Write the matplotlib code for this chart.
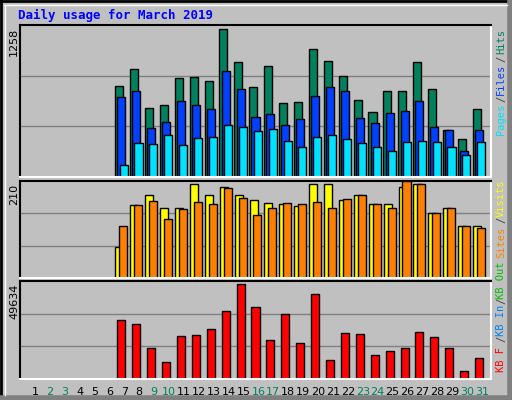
import matplotlib
matplotlib.use("Agg")
import matplotlib.pyplot as plt
from matplotlib.lines import Line2D

days = list(range(1, 32))
hits = [0]*6 + [773, 918, 587, 612, 841, 850, 816, 1258, 977, 765, 943, 629, 637, 1088, 986, 858, 654, 552, 731, 731, 977, 748, 400, 323, 578]
files = [0]*6 + [680, 731, 416, 467, 646, 612, 578, 901, 748, 510, 535, 442, 493, 688, 765, 731, 501, 459, 544, 561, 646, 425, 400, 221, 400]
pages = [0]*6 + [102, 289, 280, 357, 272, 331, 340, 442, 425, 391, 408, 306, 255, 340, 357, 323, 289, 255, 221, 298, 306, 298, 255, 187, 298]
visits = [0]*6 + [69, 162, 184, 155, 155, 210, 184, 203, 184, 174, 167, 165, 160, 210, 210, 174, 184, 165, 165, 203, 210, 146, 157, 117, 117]
sites = [0]*6 + [115, 162, 172, 131, 153, 169, 165, 200, 179, 141, 155, 167, 165, 169, 157, 176, 184, 165, 157, 217, 210, 146, 155, 117, 112]
kbytes = [0]*6 + [30540, 28900, 16360, 8730, 22360, 22900, 26180, 35450, 49634, 37630, 20180, 33800, 18540, 44180, 9820, 24000, 23450, 12540, 14720, 16360, 24540, 21820, 16360, 4360, 10910]
weekends = [2, 3, 9, 10, 16, 17, 23, 24, 30, 31]
title = "Daily usage for March 2019"

W, H = 512, 400
BG = "#C0C0C0"
fig = plt.figure(figsize=(W/100, H/100), dpi=100, facecolor=BG)
mono = "DejaVu Sans Mono"

def px_ax(x0, y0, x1, y1):
    return fig.add_axes([x0/W, 1 - y1/H, (x1-x0)/W, (y1-y0)/H])

# frame
fig.add_artist(Line2D([0, 1], [1-1/H, 1-1/H], color="black", lw=2, transform=fig.transFigure))
fig.add_artist(Line2D([1/W, 1/W], [0, 1], color="black", lw=2, transform=fig.transFigure))
fig.add_artist(Line2D([0, 1], [2/H, 2/H], color="#808080", lw=4, transform=fig.transFigure))
fig.add_artist(Line2D([1-2/W, 1-2/W], [0, 1], color="#808080", lw=4, transform=fig.transFigure))
fig.add_artist(Line2D([4/W, 1-5/W], [1-5/H, 1-5/H], color="white", lw=1, transform=fig.transFigure))
fig.add_artist(Line2D([5/W, 5/W], [5/H, 1-5/H], color="white", lw=1, transform=fig.transFigure))

panels = [(25, 177), (181, 278), (281, 379)]
axes = [px_ax(20, a, 491, b) for a, b in panels]
for ax, mx, (a, b) in zip(axes, [max(hits), max(visits), max(kbytes)], panels):
    ax.set_facecolor(BG)
    ax.set_xlim(0, 31.6)
    ax.set_ylim(0, mx * 1.03)
    for s in ["left", "top"]:
        ax.spines[s].set_color("black")
    for s in ["right", "bottom"]:
        ax.spines[s].set_color("white")
    for s in ax.spines.values():
        s.set_linewidth(1.5)
    ax.set_xticks([]); ax.set_yticks([])
    for f in (1/3, 2/3):
        ax.axhline(mx * 1.03 * f, color="#808080", lw=1, zorder=0)
    fig.text(14/W, 1 - (a + 3)/H, str(mx), rotation=90, ha="center", va="top",
             family="DejaVu Sans", fontsize=8, color="black")

bw = 0.54
kw = dict(edgecolor="black", linewidth=1, width=bw, zorder=2)
d = [x - 0.2 for x in days]
axes[0].bar([x - 0.15 for x in d], hits, color="#00805C", **kw)
axes[0].bar(d, files, color="#0040FF", **kw)
axes[0].bar([x + 0.15 for x in d], pages, color="#00E0FF", **kw)
axes[1].bar([x - 0.13 for x in d], visits, color="#FFFF00", **kw)
axes[1].bar([x + 0.13 for x in d], sites, color="#FF8000", **kw)
axes[2].bar(d, kbytes, color="#FF0000", **kw)

for x in days:
    axes[2].text(x, -0.08, str(x), transform=axes[2].get_xaxis_transform(), ha="center", va="top",
                 family="DejaVu Sans", fontsize=8, color="#00805C" if x in weekends else "black")

fig.text(18/W, 1 - 15/H, title, family=mono, fontweight="bold", fontsize=9, color="#0000FF",
         ha="left", va="center")

def rlabel(y, s, c):
    fig.text(501/W, 1 - y/H, s, rotation=90, family=mono, fontsize=7.5, color=c, ha="center", va="center")

rlabel(42, "Hits", "#00805C"); rlabel(59, "/", "#404040"); rlabel(79, "Files", "#0040FF")
rlabel(99, "/", "#404040"); rlabel(119, "Pages", "#00E0FF")
rlabel(198, "Visits", "#FFFF00"); rlabel(220, "/", "#404040"); rlabel(242, "Sites", "#FF8000")
rlabel(280, "KB Out", "#00C000"); rlabel(301, "/", "#404040"); rlabel(320, "KB In", "#0080FF")
rlabel(339, "/", "#404040"); rlabel(359, "KB F", "#FF0000")

fig.savefig("out.png", dpi=100, facecolor=BG)
